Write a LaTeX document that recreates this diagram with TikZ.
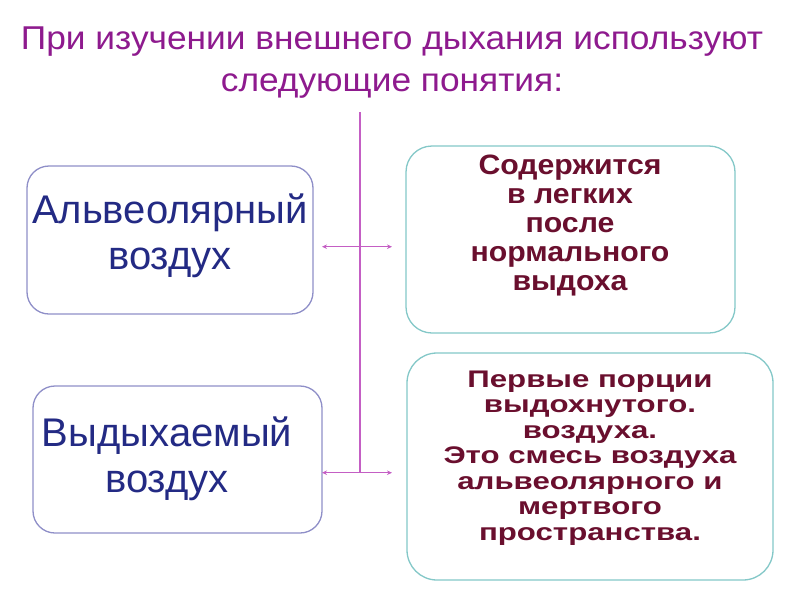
\documentclass[tikz,border=0pt]{standalone}
\usepackage{fontspec}
\setmainfont{Liberation Sans}
\usetikzlibrary{arrows.meta}
\definecolor{titlec}{HTML}{8E1A8E}
\definecolor{navyc}{HTML}{232A84}
\definecolor{maroonc}{HTML}{6A0F2E}
\definecolor{lboxc}{HTML}{8F8FC8}
\definecolor{rboxc}{HTML}{84C8C8}
\definecolor{linec}{HTML}{C45EC4}
\begin{document}
\begin{tikzpicture}[x=1pt,y=-1pt,
  lbox/.style={draw=lboxc, line width=1.3pt, rounded corners=22pt, fill=white},
  rbox/.style={draw=rboxc, line width=1.3pt, rounded corners=26pt, fill=white},
  ltext/.style={text=navyc, align=center, inner sep=0pt, font=\fontsize{40}{46}\selectfont},
  rtext/.style={text=maroonc, align=center, inner sep=0pt, font=\fontsize{28}{29}\selectfont\bfseries\addfontfeature{FakeStretch=1.08}},
  rtextb/.style={text=maroonc, align=center, inner sep=0pt, font=\fontsize{24}{25.5}\selectfont\bfseries\addfontfeature{FakeStretch=1.3}},
  ttext/.style={text=titlec, align=center, inner sep=0pt, font=\fontsize{33}{42}\selectfont\addfontfeature{FakeStretch=1.07}},
  conn/.style={draw=linec, line width=1.3pt},
  darrow/.style={conn, {Stealth[length=5pt,width=4.5pt]}-{Stealth[length=5pt,width=4.5pt]}}
]
\useasboundingbox (0,0) rectangle (800,600);
\fill[white] (0,0) rectangle (800,600);

\node[ttext] (title) at (392,63) {При изучении внешнего дыхания используют\\следующие понятия:};

\node[lbox, minimum width=286pt, minimum height=148pt] (L1) at (170,240) {};
\node[lbox, minimum width=289pt, minimum height=147pt] (L2) at (177.5,459.5) {};
\node[rbox, minimum width=329pt, minimum height=187pt] (R1) at (570.5,239.5) {};
\node[rbox, rounded corners=30pt, minimum width=366pt, minimum height=227pt] (R2) at (590,466.5) {};

\node[ltext] (L1t) at (170,236) {Альвеолярный\\воздух};
\node[ltext] (L2t) at (167,459) {Выдыхаемый\\воздух};
\node[rtext] (R1t) at (570,226) {Содержится\\в легких\\после\\нормального\\выдоха};
\node[rtextb] (R2t) at (590,458) {Первые порции\\выдохнутого.\\воздуха.\\Это смесь воздуха\\альвеолярного и\\мертвого\\пространства.};

\coordinate (vtop) at (360,112);
\coordinate (vbot) at (360,472.7);
\coordinate (a1l) at (322,246.7);
\coordinate (a1r) at (392,246.7);
\coordinate (a2l) at (322,472.7);
\coordinate (a2r) at (392,472.7);

\draw[conn] (vtop) -- (vbot);
\draw[darrow] (a1l) -- (a1r);
\draw[darrow] (a2l) -- (a2r);
\end{tikzpicture}
\end{document}
